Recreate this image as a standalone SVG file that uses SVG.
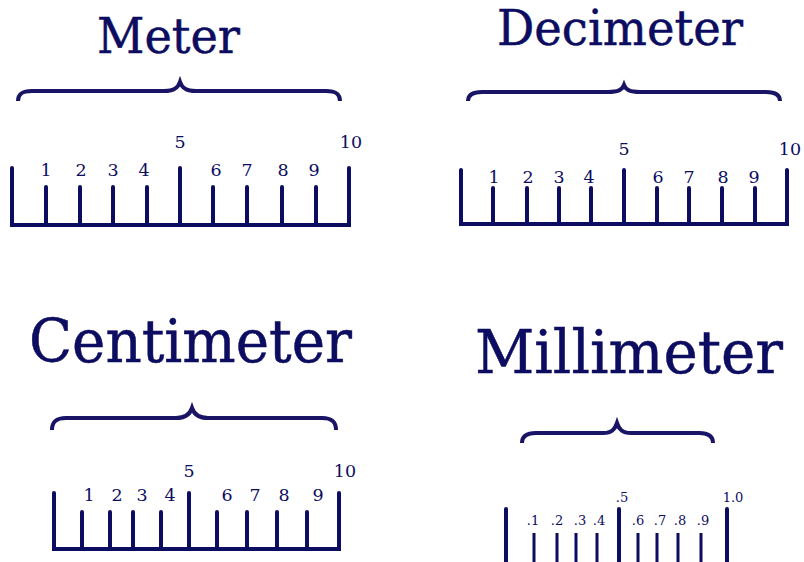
<svg xmlns="http://www.w3.org/2000/svg" width="804" height="562" viewBox="0 0 804 562">
<style>
.t{font-family:"DejaVu Serif","Liberation Serif",serif;fill:#0c0c60;text-anchor:middle;stroke:#0c0c60;stroke-width:0.5}
.n{font-family:"DejaVu Serif","Liberation Serif",serif;fill:#0c0c60;text-anchor:middle;font-size:17.5px}
.s{font-family:"DejaVu Serif","Liberation Serif",serif;fill:#0c0c60;text-anchor:middle;font-size:13px}
.r{stroke:#0c0c60;stroke-width:4;fill:none;stroke-linecap:round}
.m{stroke:#0c0c60;stroke-width:3;fill:none}
.b{stroke:#1a1466;stroke-width:4;fill:none}
</style>
<rect width="804" height="562" fill="#ffffff"/>

<g id="meter">
<text class="t" x="168.5" y="53" font-size="48" textLength="143" lengthAdjust="spacingAndGlyphs">Meter</text>
<path class="b" d="M18,101 C18,94 22,91 32,91 L164,91 C174,91 178,88 180,82 C182,88 186,91 196,91 L326,91 C336,91 340,94 340,101"/>
<path class="r" d="M12,168 V225 H349 V168 M46,187 V225 M80,187 V225 M113,187 V225 M147,187 V225 M180,168 V225 M213,187 V225 M247,187 V225 M282,187 V225 M316,187 V225"/>
<text class="n" x="46" y="176">1</text>
<text class="n" x="81" y="176">2</text>
<text class="n" x="113" y="176">3</text>
<text class="n" x="144" y="176">4</text>
<text class="n" x="180" y="148">5</text>
<text class="n" x="216" y="176">6</text>
<text class="n" x="247" y="176">7</text>
<text class="n" x="283" y="176">8</text>
<text class="n" x="314" y="176">9</text>
<text class="n" x="351" y="148">10</text>
</g>

<g id="decimeter">
<text class="t" x="620" y="45" font-size="48" textLength="246" lengthAdjust="spacingAndGlyphs">Decimeter</text>
<path class="b" d="M468,101 C468,95 472,92 482,92 L608,92 C618,92 622,90 624,85 C626,90 630,92 640,92 L766,92 C776,92 780,95 780,101"/>
<path class="r" d="M461,170 V224 H787 V170 M493,188 V224 M527,188 V224 M559,188 V224 M591,188 V224 M624,170 V224 M657,188 V224 M689,188 V224 M722,188 V224 M755,188 V224"/>
<text class="n" x="494" y="183">1</text>
<text class="n" x="528" y="183">2</text>
<text class="n" x="559" y="183">3</text>
<text class="n" x="589" y="183">4</text>
<text class="n" x="624" y="155">5</text>
<text class="n" x="658" y="183">6</text>
<text class="n" x="689" y="183">7</text>
<text class="n" x="723" y="183">8</text>
<text class="n" x="754" y="183">9</text>
<text class="n" x="790" y="155">10</text>
</g>

<g id="centimeter">
<text class="t" x="190.5" y="362" font-size="59" textLength="323" lengthAdjust="spacingAndGlyphs">Centimeter</text>
<path class="b" d="M52,430 C52,422 56,418 66,418 L176,418 C186,418 190,414 192,408 C194,414 198,418 208,418 L322,418 C332,418 336,422 336,430"/>
<path class="r" d="M54,493 V549 H339 V493 M82,512 V549 M110,512 V549 M133,512 V549 M161,512 V549 M189,493 V549 M217,512 V549 M247,512 V549 M277,512 V549 M307,512 V549"/>
<text class="n" x="89" y="501">1</text>
<text class="n" x="117" y="501">2</text>
<text class="n" x="142" y="501">3</text>
<text class="n" x="170" y="501">4</text>
<text class="n" x="189" y="477">5</text>
<text class="n" x="227" y="501">6</text>
<text class="n" x="255" y="501">7</text>
<text class="n" x="284" y="501">8</text>
<text class="n" x="318" y="501">9</text>
<text class="n" x="345" y="477">10</text>
</g>

<g id="millimeter">
<text class="t" x="629" y="373" font-size="59" textLength="308" lengthAdjust="spacingAndGlyphs">Millimeter</text>
<path class="b" d="M522,443 C522,437 526,433 536,433 L603,433 C612,433 615,429 617,423 C619,429 622,433 631,433 L699,433 C709,433 713,437 713,443"/>
<path class="r" d="M506,509 V570 M619,509 V570 M727,509 V570"/>
<path class="m" d="M534,533 V570 M557,533 V570 M576,533 V570 M597,533 V570 M638,533 V570 M657,533 V570 M678,533 V570 M701,533 V570"/>
<text class="s" x="533" y="525">.1</text>
<text class="s" x="557" y="525">.2</text>
<text class="s" x="580" y="525">.3</text>
<text class="s" x="599" y="525">.4</text>
<text class="s" x="622" y="502">.5</text>
<text class="s" x="638" y="525">.6</text>
<text class="s" x="660" y="525">.7</text>
<text class="s" x="680" y="525">.8</text>
<text class="s" x="703" y="525">.9</text>
<text class="s" x="733" y="502">1.0</text>
</g>
</svg>
